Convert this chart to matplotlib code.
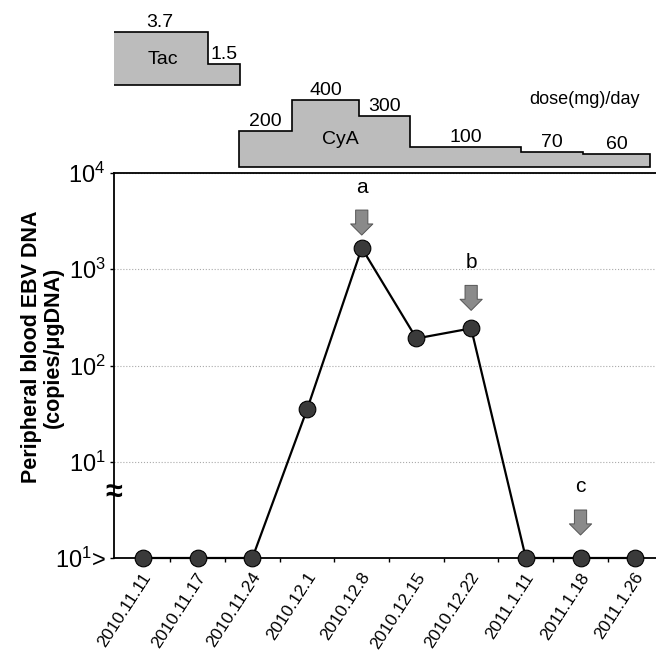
import numpy as np
import matplotlib
matplotlib.use("Agg")
import matplotlib.pyplot as plt
from matplotlib.transforms import ScaledTranslation

plt.rcParams['font.family'] = ['Liberation Sans', 'DejaVu Sans']
plt.rcParams['mathtext.fontset'] = 'custom'
plt.rcParams['mathtext.rm'] = 'Liberation Sans'
plt.rcParams['mathtext.default'] = 'regular'

# EBV DNA per sampling date (values below 10 copies drawn on the "10^1>" baseline = 1)
dates = ['2010.11.11', '2010.11.17', '2010.11.24', '2010.12.1', '2010.12.8',
         '2010.12.15', '2010.12.22', '2011.1.11', '2011.1.18', '2011.1.26']
ebv = [1, 1, 1, 35, 1660, 191, 243, 1, 1, 1]

# arrows a, b, c
arrow_idx = [4, 6, 8]
arrow_lab = ['a', 'b', 'c']
arrow_gap = [13, 18, 23]   # px between point and arrow tip

# dose schedule (x in category units)
tac_edges = [-0.57, 1.19, 1.77]
tac_dose = [3.7, 1.5]
cya_edges = [1.76, 2.73, 3.95, 4.88, 6.91, 8.05, 9.27]
cya_dose = [200, 400, 300, 100, 70, 60]

W, H = 656, 655
fig = plt.figure(figsize=(W / 100, H / 100), dpi=100)

x0, x_top, x_bot = 114, 173, 558
ax = fig.add_axes([x0 / W, (H - x_bot) / H, 1 - x0 / W, (x_bot - x_top) / H])
x = np.arange(len(dates))
ax.set_yscale('log')
ax.set_ylim(1, 1e4)
ax.set_xlim(-0.53, 9.38)

ax.grid(axis='y', which='major', linestyle=':', color='#aaaaaa', lw=0.8)
ax.plot(x, ebv, '-o', color='black', lw=1.6, ms=12,
        mfc='#3a3a3a', mec='black', mew=0.8, clip_on=False, zorder=5)

ax.set_yticks([1, 10, 100, 1000, 10000])
ax.set_yticklabels(['$10^{1}$>', '$10^{1}$', '$10^{2}$', '$10^{3}$', '$10^{4}$'], fontsize=17)
ax.yaxis.set_minor_locator(matplotlib.ticker.NullLocator())
ax.tick_params(axis='y', direction='out', length=3, width=1, pad=3)

# date labels drawn as rotated texts hanging below each point
ax.set_xticks(x)
ax.set_xticklabels([])
ax.tick_params(axis='x', which='major', length=0)
ax.set_xticks(x[:-1] + 0.5, minor=True)
ax.tick_params(axis='x', which='minor', direction='out', length=3, width=1)
off = ScaledTranslation(5 / 100, -16 / 100, fig.dpi_scale_trans)
for xi, d in zip(x, dates):
    ax.text(xi, 0, d, transform=ax.get_xaxis_transform() + off, fontsize=12.5,
            rotation=57, ha='right', va='center', rotation_mode='anchor')

for s in ['left', 'bottom', 'top']:
    ax.spines[s].set_linewidth(1.3)
ax.spines['right'].set_visible(False)

# axis break mark
ax.text(-0.53, 10 ** 0.675, '≈', fontsize=22, ha='center', va='center',
        fontweight='bold', clip_on=False, zorder=6)

for i, lab, g in zip(arrow_idx, arrow_lab, arrow_gap):
    tip = ax.transData.transform((x[i], ebv[i]))
    ax.annotate('', xy=(tip[0], tip[1] + g), xycoords='figure pixels',
                xytext=(tip[0], tip[1] + g + 25), textcoords='figure pixels',
                arrowprops=dict(arrowstyle='simple,head_length=0.5,head_width=1.0,tail_width=0.55',
                                fc='#8a8a8a', ec='#555555', lw=0.7, mutation_scale=16,
                                shrinkA=0, shrinkB=0))
    ax.annotate(lab, xy=(tip[0], tip[1] + g + 48), xycoords='figure pixels',
                ha='center', va='center', fontsize=15)

fig.text(42 / W, 1 - 347 / H, 'Peripheral blood EBV DNA\n(copies/μgDNA)', rotation=90,
         ha='center', va='center', fontsize=15.5, fontweight='bold', linespacing=1.05,
         multialignment='center')

# dose panel, y in pixels above plot top
axd = fig.add_axes([x0 / W, (H - x_top) / H, 1 - x0 / W, x_top / H])
axd.set_xlim(ax.get_xlim())
axd.set_ylim(0, x_top)
axd.axis('off')


def dose_block(edges, doses, base, scale, offs, labfmt):
    px, py = [edges[0]], [base]
    for k, d in enumerate(doses):
        h = base + offs + d * scale
        px += [edges[k], edges[k + 1]]
        py += [h, h]
        axd.text((edges[k] + edges[k + 1]) / 2, h + 1, labfmt(d), ha='center', va='bottom',
                 fontsize=14)
    px.append(edges[-1])
    py.append(base)
    axd.fill(px, py, facecolor='#bcbcbc', edgecolor='black', lw=1.2)


dose_block(tac_edges, tac_dose, 88, 14.3, 0, lambda d: f'{d:.1f}')
dose_block(cya_edges, cya_dose, 6, 0.158, 4, lambda d: f'{d:d}')
axd.text(0.37, 113, 'Tac', ha='center', va='center', fontsize=14)
axd.text(3.6, 34, 'CyA', ha='center', va='center', fontsize=14)
axd.text(8.07, 74, 'dose(mg)/day', ha='center', va='center', fontsize=13)

fig.savefig('out.png', dpi=100)
